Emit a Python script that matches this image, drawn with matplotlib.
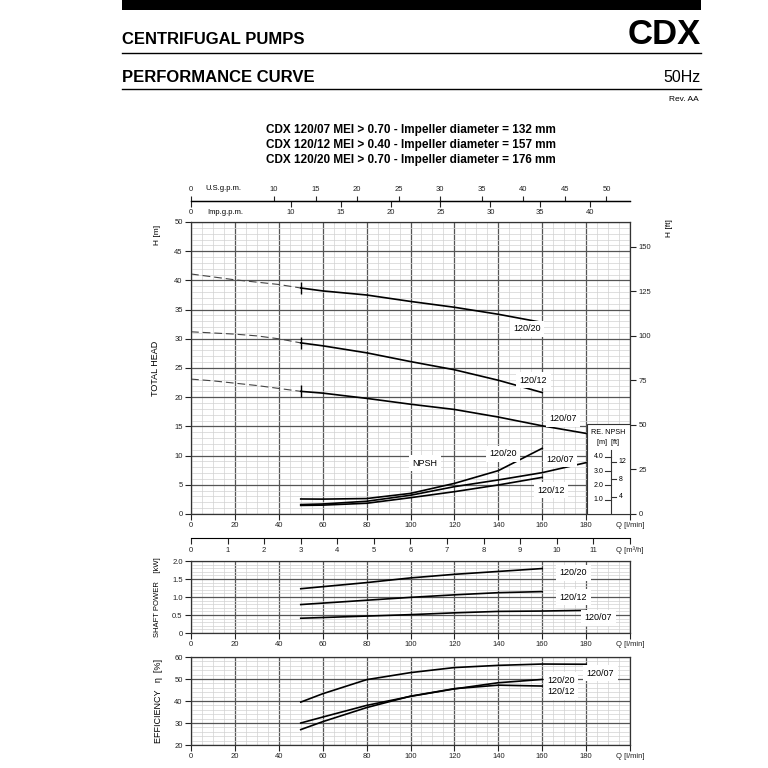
import numpy as np
import matplotlib.pyplot as plt
from matplotlib.ticker import MultipleLocator, FuncFormatter
from matplotlib.patches import Rectangle
from matplotlib.lines import Line2D

plt.rcParams['font.family'] = ['Liberation Sans Narrow', 'Liberation Sans', 'DejaVu Sans']
plt.rcParams['axes.unicode_minus'] = False

# head curves, dashed part (Q l/min, H m)
q_dash = [0, 10, 20, 30, 40, 50]
h20_dash = [41.1, 40.6, 40.1, 39.7, 39.3, 38.7]
h12_dash = [31.2, 31.0, 30.8, 30.5, 30.0, 29.3]
h07_dash = [23.1, 22.8, 22.4, 22.0, 21.5, 21.0]

# head curves, solid part
q_h = [50, 60, 80, 100, 120, 140, 160]
h20 = [38.7, 38.2, 37.5, 36.4, 35.4, 34.2, 32.8]
h12 = [29.3, 28.8, 27.6, 26.1, 24.7, 22.9, 20.8]
q_h07 = [50, 60, 80, 100, 120, 140, 160, 180]
h07 = [21.0, 20.7, 19.8, 18.8, 17.9, 16.6, 15.1, 13.8]

# NPSH required (m)
q_npsh = [50, 60, 80, 100, 120, 140, 160]
npsh20 = [1.05, 1.04, 1.08, 1.44, 2.14, 3.03, 4.59]
npsh12 = [0.60, 0.62, 0.75, 1.14, 1.56, 2.03, 2.56]
q_npsh07 = [50, 60, 80, 100, 120, 140, 160, 180]
npsh07 = [0.66, 0.70, 0.89, 1.31, 1.91, 2.38, 2.89, 3.59]
NPSH_K = 2.45  # 1 m NPSH drawn as 2.45 m of the head grid

# shaft power (kW)
q_p = [50, 80, 100, 120, 140, 160]
p20 = [1.23, 1.40, 1.53, 1.63, 1.71, 1.79]
p12 = [0.79, 0.91, 0.99, 1.06, 1.12, 1.15]
q_p07 = [50, 80, 100, 120, 140, 160, 180]
p07 = [0.41, 0.47, 0.51, 0.56, 0.60, 0.61, 0.63]

# efficiency (%)
q_e = [50, 60, 80, 100, 120, 140, 160]
e20 = [30.0, 32.7, 38.0, 42.1, 45.5, 48.3, 49.8]
e12 = [27.0, 30.6, 37.0, 42.2, 45.6, 47.2, 46.8]
q_e07 = [50, 60, 80, 100, 120, 140, 160, 180]
e07 = [39.5, 43.3, 49.7, 52.9, 55.2, 56.2, 56.8, 56.7]

us_ticks = [0, 10, 15, 20, 25, 30, 35, 40, 45, 50]
imp_ticks = [0, 10, 15, 20, 25, 30, 35, 40]
m3h_ticks = list(range(0, 13))
ft_ticks = [0, 25, 50, 75, 100, 125, 150]

titles = ["CDX 120/07 MEI > 0.70 - Impeller diameter = 132 mm",
          "CDX 120/12 MEI > 0.40 - Impeller diameter = 157 mm",
          "CDX 120/20 MEI > 0.70 - Impeller diameter = 176 mm"]

fig = plt.figure(figsize=(7.68, 7.68), dpi=100)
PX = 768.0


def rect(top, bottom, left=191, right=630):
    return [left / PX, 1 - bottom / PX, (right - left) / PX, (bottom - top) / PX]


def q_fmt(v, pos):
    if abs(v - 200) < 1e-6:
        return 'Q [l/min]'
    return '%d' % v


def style(a, ymaj, ymin):
    a.set_xlim(0, 200)
    a.xaxis.set_major_locator(MultipleLocator(20))
    a.xaxis.set_minor_locator(MultipleLocator(5))
    a.xaxis.set_major_formatter(FuncFormatter(q_fmt))
    a.yaxis.set_major_locator(MultipleLocator(ymaj))
    a.yaxis.set_minor_locator(MultipleLocator(ymin))
    a.grid(which='major', color='#555555', lw=0.9)
    a.grid(which='minor', color='#d2d2d2', lw=0.5)
    a.set_axisbelow(True)
    a.tick_params(which='minor', length=0)
    a.tick_params(which='major', direction='out', length=4, width=0.8,
                  labelsize=5.5, pad=2, colors='#222222')
    for s in a.spines.values():
        s.set_linewidth(0.9)
        s.set_color('#333333')


lab_box = dict(facecolor='white', edgecolor='none', pad=2.5)

# ---------------- head / NPSH ----------------
ax = fig.add_axes(rect(222, 514))
style(ax, 5, 1)
ax.set_ylim(0, 50)

for hd in (h20_dash, h12_dash, h07_dash):
    ax.plot(q_dash, hd, color='#444444', lw=0.8, dashes=(7, 3.5))
ax.plot(q_h, h20, color='black', lw=1.2)
ax.plot(q_h, h12, color='black', lw=1.2)
ax.plot(q_h07, h07, color='black', lw=1.2)
ax.plot([q_h[0]] * 3, [h20[0], h12[0], h07[0]], ls='none', marker='|',
        ms=8, mew=1.0, color='black')

ax.plot(q_npsh, np.array(npsh20) * NPSH_K, color='black', lw=1.2)
ax.plot(q_npsh, np.array(npsh12) * NPSH_K, color='black', lw=1.2)
ax.plot(q_npsh07, np.array(npsh07) * NPSH_K, color='black', lw=1.2)

fs_lab = 6.5
ax.text(153, 31.7, '120/20', fontsize=fs_lab, ha='center', va='center', bbox=lab_box)
ax.text(156, 22.9, '120/12', fontsize=fs_lab, ha='center', va='center', bbox=lab_box)
ax.text(169.5, 16.3, '120/07', fontsize=fs_lab, ha='center', va='center', bbox=lab_box)
ax.text(142, 10.3, '120/20', fontsize=fs_lab, ha='center', va='center', bbox=lab_box)
ax.text(168, 9.4, '120/07', fontsize=fs_lab, ha='center', va='center', bbox=lab_box)
ax.text(164, 4.1, '120/12', fontsize=fs_lab, ha='center', va='center', bbox=lab_box)
ax.text(106.5, 8.7, 'NPSH', fontsize=fs_lab, ha='center', va='center', bbox=lab_box)

# RE. NPSH scale box
ax.add_patch(Rectangle((180.4, 0), 19.6, 15.35, facecolor='white',
                       edgecolor='#333333', lw=0.8, zorder=3))
ax.text(190.2, 14.0, 'RE. NPSH', fontsize=5.2, ha='center', va='center', zorder=4)
ax.text(190.2, 12.2, '[m]  [ft]', fontsize=5.2, ha='center', va='center', zorder=4)
sx = 191.4
ax.plot([sx, sx], [0, 10.9], color='#333333', lw=0.8, zorder=4)
for m in [1.0, 2.0, 3.0, 4.0]:
    ax.plot([sx - 2.9, sx], [m * NPSH_K] * 2, color='#333333', lw=0.8, zorder=4)
    ax.text(sx - 3.4, m * NPSH_K, '%.1f' % m, fontsize=5, ha='right', va='center', zorder=4)
for f in [4, 8, 12]:
    yy = f / 3.28084 * NPSH_K
    ax.plot([sx, sx + 2.4], [yy] * 2, color='#333333', lw=0.8, zorder=4)
    ax.text(sx + 3.4, yy, '%d' % f, fontsize=5, ha='left', va='center', zorder=4)

ax.set_ylabel('TOTAL HEAD', fontsize=6.5, labelpad=10)
ax.text(-0.077, 0.955, 'H [m]', transform=ax.transAxes, rotation=90,
        fontsize=6, ha='center', va='center')

sec_ft = ax.secondary_yaxis('right', functions=(lambda m: m * 3.28084, lambda f: f / 3.28084))
sec_ft.set_yticks(ft_ticks)
sec_ft.tick_params(direction='out', length=4, width=0.8, labelsize=5.5, pad=2, colors='#222222')
sec_ft.spines['right'].set_visible(False)
ax.text(1.091, 0.98, 'H [ft]', transform=ax.transAxes, rotation=90,
        fontsize=6, ha='center', va='center')

# flow scales above the head chart
top_loc = 1 + (222 - 200.7) / 292
sec_us = ax.secondary_xaxis(top_loc, functions=(lambda q: q / 3.78541, lambda g: g * 3.78541))
sec_us.set_xticks(us_ticks)
sec_us.tick_params(direction='out', length=3.5, width=0.8, labelsize=5.5, pad=2, colors='#222222')
sec_us.spines['top'].set_linewidth(0.9)
sec_imp = ax.secondary_xaxis(top_loc, functions=(lambda q: q / 4.54609, lambda g: g * 4.54609))
sec_imp.set_alignment('bottom')
sec_imp.set_xticks(imp_ticks)
sec_imp.tick_params(direction='out', length=4, width=0.8, labelsize=5.5, pad=2, colors='#222222')
sec_imp.spines['bottom'].set_linewidth(0.9)
xt = ax.get_xaxis_transform()
ax.text(6.4, (514 - 188) / 292, 'U.S.g.p.m.', transform=xt, fontsize=5.5,
        ha='left', va='center')
ax.text(7.3, (514 - 213) / 292, 'Imp.g.p.m.', transform=xt, fontsize=5.5,
        ha='left', va='center')

# m3/h scale below the head chart (1 m3/h = 50/3 l/min)
sec_m3 = ax.secondary_xaxis(-(538.3 - 514) / 292,
                            functions=(lambda q: q * 3 / 50, lambda m: m * 50 / 3))
sec_m3.set_xticks(m3h_ticks)
sec_m3.set_xticklabels([str(t) for t in m3h_ticks[:-1]] + ['Q [m³/h]'])
sec_m3.tick_params(direction='out', length=4, width=0.8, labelsize=5.5, pad=2, colors='#222222')

# ---------------- shaft power ----------------
axp = fig.add_axes(rect(561, 633))
style(axp, 0.5, 0.1)
axp.set_ylim(0, 2.0)
axp.yaxis.set_major_formatter(FuncFormatter(lambda v, p: '0' if v == 0 else '%.1f' % v))
axp.plot(q_p, p20, color='black', lw=1.2)
axp.plot(q_p, p12, color='black', lw=1.2)
axp.plot(q_p07, p07, color='black', lw=1.2)
axp.text(174.2, 1.67, '120/20', fontsize=fs_lab, ha='center', va='center', bbox=lab_box)
axp.text(174.2, 1.0, '120/12', fontsize=fs_lab, ha='center', va='center', bbox=lab_box)
axp.text(185.6, 0.42, '120/07', fontsize=fs_lab, ha='center', va='center', bbox=lab_box)
axp.set_ylabel('SHAFT POWER    [kW]', fontsize=5.5, labelpad=8)

# ---------------- efficiency ----------------
axe = fig.add_axes(rect(657, 745))
style(axe, 10, 2)
axe.set_ylim(20, 60)
axe.plot(q_e, e20, color='black', lw=1.2)
axe.plot(q_e, e12, color='black', lw=1.2)
axe.plot(q_e07, e07, color='black', lw=1.2)
axe.text(186.5, 52.7, '120/07', fontsize=fs_lab, ha='center', va='center', bbox=lab_box)
axe.text(168.7, 49.5, '120/20', fontsize=fs_lab, ha='center', va='center', bbox=lab_box)
axe.text(168.7, 44.1, '120/12', fontsize=fs_lab, ha='center', va='center', bbox=lab_box)
axe.set_ylabel('EFFICIENCY   η  [%]', fontsize=6.5, labelpad=8)

# ---------------- page header ----------------
hdr = ['Liberation Sans', 'DejaVu Sans']
fig.add_artist(Rectangle((122 / PX, 1 - 10 / PX), (701 - 122) / PX, 10 / PX,
                         transform=fig.transFigure, facecolor='black', edgecolor='none'))
for yl in (53, 89):
    fig.add_artist(Line2D([122 / PX, 701 / PX], [1 - yl / PX] * 2,
                          transform=fig.transFigure, color='black', lw=1.0))
fig.text(122 / PX, 1 - 44 / PX, 'CENTRIFUGAL PUMPS', fontsize=12, fontweight='bold',
         family=hdr, ha='left', va='baseline')
fig.text(701 / PX, 1 - 44 / PX, 'CDX', fontsize=25, fontweight='bold',
         family=hdr, ha='right', va='baseline')
fig.text(122 / PX, 1 - 82 / PX, 'PERFORMANCE CURVE', fontsize=12, fontweight='bold',
         family=hdr, ha='left', va='baseline')
fig.text(701 / PX, 1 - 82 / PX, '50Hz', fontsize=11.5, family=hdr, ha='right', va='baseline')
fig.text(699 / PX, 1 - 101 / PX, 'Rev. AA', fontsize=6, family=hdr, ha='right', va='baseline')
for i, t in enumerate(titles):
    fig.text(411 / PX, 1 - (130 + 15 * i) / PX, t, fontsize=8.5, fontweight='bold',
             family=hdr, ha='center', va='center')

fig.savefig('out.png', dpi=100)
